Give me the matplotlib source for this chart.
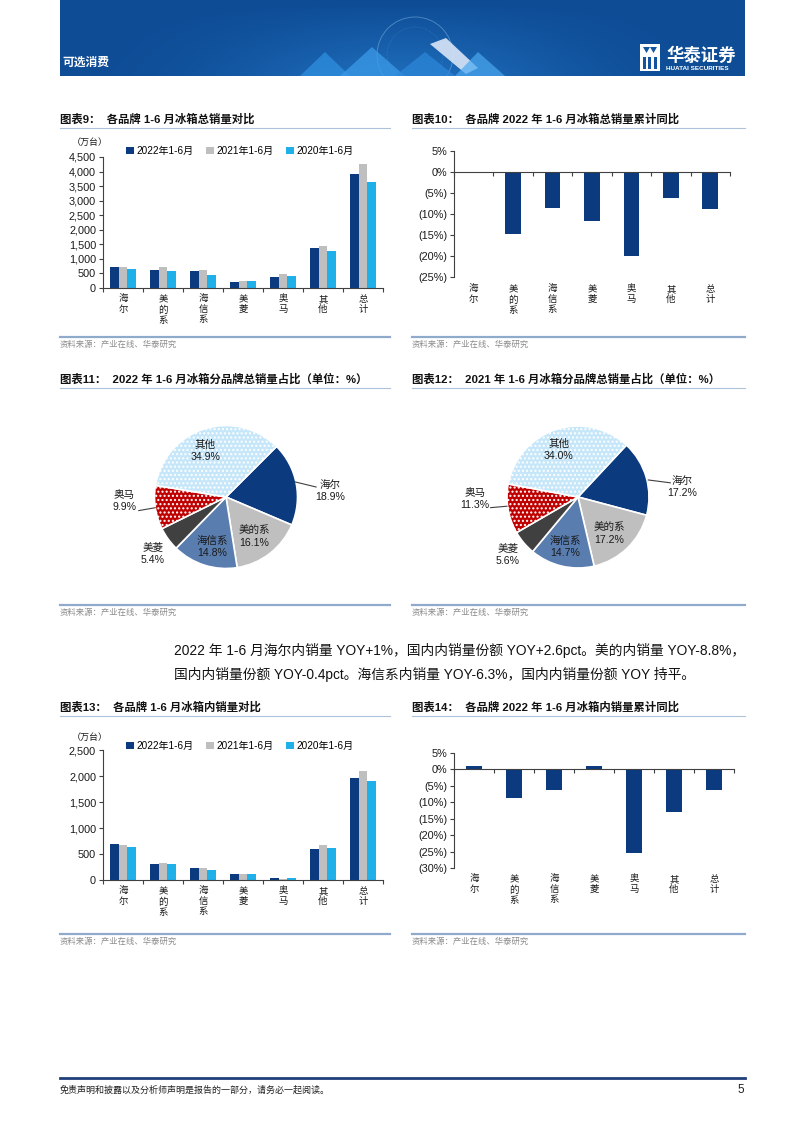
import matplotlib
matplotlib.use('Agg')
import matplotlib.pyplot as plt
import numpy as np
from matplotlib.lines import Line2D
from matplotlib.patches import Rectangle, Polygon, Circle
import matplotlib.transforms as mtransforms

plt.rcParams['font.family'] = ['Liberation Sans', 'Noto Sans CJK SC']
plt.rcParams['axes.unicode_minus'] = False
plt.rcParams['hatch.linewidth'] = 1.0

# ---------------- data ----------------
brands = ['海尔', '美的系', '海信系', '美菱', '奥马', '其他', '总计']
series_labels = ['2022年1-6月', '2021年1-6月', '2020年1-6月']

total_2022 = [735, 625, 575, 205, 380, 1360, 3905]
total_2021 = [735, 730, 628, 235, 480, 1450, 4270]
total_2020 = [655, 595, 445, 230, 400, 1275, 3655]
total_yoy = [0.0, -14.7, -8.5, -11.7, -20.1, -6.2, -8.8]

dom_2022 = [690, 300, 222, 120, 30, 590, 1955]
dom_2021 = [680, 330, 235, 115, 25, 672, 2090]
dom_2020 = [635, 305, 198, 115, 30, 612, 1900]
dom_yoy = [1.0, -8.8, -6.3, 1.0, -25.3, -13.0, -6.4]

pie_brands = ['海尔', '美的系', '海信系', '美菱', '奥马', '其他']
share_2022 = [18.9, 16.1, 14.8, 5.4, 9.9, 34.9]
share_2021 = [17.2, 17.2, 14.7, 5.6, 11.3, 34.0]

# ---------------- styles ----------------
NAVY = '#0B3A7E'
GRAY = '#BFBFBF'
CYAN = '#1FB0EA'
series_colors = [NAVY, GRAY, CYAN]
pie_colors = ['#0B3A7E', '#BFBFBF', '#5A7DB0', '#404040', '#C00000', '#C6E7F9']
pie_hatches = [None, None, None, None, '....', '....']
AXC = '#404040'
TXT = '#1A1A1A'

W, H = 802, 1133
fig = plt.figure(figsize=(W / 100, H / 100), dpi=100)


def fx(x):
    return x / W


def fy(y):
    return 1 - y / H


def rect(l, t, r, b):
    return [l / W, 1 - b / H, (r - l) / W, (b - t) / H]


def hline(x0, x1, y, color, lw):
    fig.add_artist(Line2D([fx(x0), fx(x1)], [fy(y), fy(y)], color=color, lw=lw,
                          transform=fig.transFigure))


def ftext(x, y, s, **kw):
    fig.text(fx(x), fy(y), s, **kw)


# ---------------- header ----------------
hax = fig.add_axes(rect(60, 0, 745, 76))
grad = np.linspace(0, 1, 256)
gx = np.exp(-((grad - 0.5) / 0.25) ** 2)
img = np.zeros((20, 256, 3))
c0 = np.array([0x0E, 0x4C, 0x95]) / 255
c1 = np.array([0x1E, 0x6C, 0xBA]) / 255
for i in range(20):
    img[i] = c0 + (c1 - c0) * (gx * (i / 19))[:, None]
hax.imshow(img, extent=[60, 745, 76, 0], aspect='auto', zorder=0)
hax.set_xlim(60, 745)
hax.set_ylim(76, 0)
hax.axis('off')
hax.add_patch(Circle((415, 55), 38, fill=False, ec='#8FC3F0', lw=0.6, alpha=0.5))
hax.add_patch(Circle((415, 55), 28, fill=False, ec='#8FC3F0', lw=0.4, alpha=0.4, ls=':'))
for pts, col, a in [
    ([(300, 76), (325, 52), (350, 76)], '#2F8FE0', 0.75),
    ([(340, 76), (372, 47), (405, 76)], '#3A9AE8', 0.75),
    ([(395, 76), (425, 52), (455, 76)], '#2C86D8', 0.75),
    ([(430, 44), (446, 38), (478, 68), (466, 74)], '#D9E6F7', 0.9),
    ([(455, 76), (478, 52), (505, 76)], '#4AA8F0', 0.7),
]:
    hax.add_patch(Polygon(pts, closed=True, color=col, alpha=a, lw=0))
ftext(62, 63, '可选消费', color='white', fontsize=8.5, va='center', fontweight='bold')
# logo icon
hax.add_patch(Rectangle((640, 44), 20, 27, color='white', lw=0))
hax.add_patch(Polygon([(643, 47), (650, 47), (646.5, 53)], color='#12559E', lw=0))
hax.add_patch(Polygon([(650, 47), (657, 47), (653.5, 53)], color='#12559E', lw=0))
hax.add_patch(Rectangle((643, 57), 3, 12, color='#12559E', lw=0))
hax.add_patch(Rectangle((648.5, 57), 3, 12, color='#12559E', lw=0))
hax.add_patch(Rectangle((654, 57), 3, 12, color='#12559E', lw=0))
ftext(666, 55, '华泰证券', color='white', fontsize=12.5, va='center', fontweight='bold')
ftext(666, 68, 'HUATAI SECURITIES', color='white', fontsize=4.6, va='center', fontweight='bold')

# ---------------- helpers ----------------
SRC = '资料来源：产业在线、华泰研究'


def panel_title(x0, x1, y, s):
    ftext(x0, y, s, fontsize=8.2, fontweight='bold', va='center', color='#111111')
    hline(x0, x1, y + 9, '#AFC2DC', 0.8)


def source(x0, x1, y):
    hline(x0, x1, y, '#8FAACB', 1.6)
    ftext(x0, y + 8, SRC, fontsize=6, va='center', color='#8C8C8C')


def cat_labels(ax, cats, offset_px, height_px):
    trans = mtransforms.blended_transform_factory(ax.transData, ax.transAxes)
    for i, c in enumerate(cats):
        ax.text(i + 0.5, -offset_px / height_px, '\n'.join(c), transform=trans,
                ha='center', va='top', fontsize=6.8, linespacing=1.15, color=TXT)


def style_axes(ax):
    for s in ['top', 'right']:
        ax.spines[s].set_visible(False)
    for s in ['left', 'bottom']:
        ax.spines[s].set_color(AXC)
        ax.spines[s].set_linewidth(0.8)
    ax.tick_params(axis='y', direction='out', length=3, width=0.8, color=AXC,
                   labelsize=7, labelcolor=TXT, pad=2)
    ax.tick_params(axis='x', direction='out', length=3, width=0.8, color=AXC,
                   labelbottom=False)
    ax.set_xlim(0, 7)
    ax.set_xticks(np.arange(0, 8))
    ax.patch.set_alpha(0)


def grouped(box, series, ylim, yticks, legend_y, unit_y, label_off):
    ax = fig.add_axes(rect(*box))
    x = np.arange(len(brands)) + 0.5
    w = 0.215
    handles = []
    for k, (vals, col) in enumerate(zip(series, series_colors)):
        b = ax.bar(x + (k - 1) * w, vals, w, color=col, lw=0)
        handles.append(b)
    style_axes(ax)
    ax.set_ylim(*ylim)
    ax.set_yticks(yticks)
    ax.set_yticklabels([f'{v:,}' for v in yticks])
    ax.tick_params(axis='y', labelsize=7.8)
    cat_labels(ax, brands, label_off, box[3] - box[1])
    ftext(box[0] - 31, unit_y, '（万台）', fontsize=6.5, va='center', color=TXT)
    ax.legend(handles, series_labels, ncol=3, loc='center left',
              bbox_to_anchor=(fx(box[0] + 23), fy(legend_y)),
              bbox_transform=fig.transFigure, frameon=False, fontsize=7.2,
              handlelength=0.75, handleheight=0.75, handletextpad=0.25,
              columnspacing=1.3, borderpad=0, borderaxespad=0)
    return ax


def pct_fmt(v):
    if v == 0:
        return '0%'
    if v > 0:
        return f'{v:.0f}%'
    return f'({-v:.0f}%)'


def yoy(box, vals, ylim, yticks, label_off, width):
    ax = fig.add_axes(rect(*box))
    x = np.arange(len(brands)) + 0.5
    ax.bar(x, vals, width, color=NAVY, lw=0)
    style_axes(ax)
    ax.set_ylim(*ylim)
    ax.set_yticks(yticks)
    ax.set_yticklabels([pct_fmt(v) for v in yticks])
    ax.tick_params(axis='y', labelsize=7.8)
    ax.spines['bottom'].set_position(('data', 0))
    cat_labels(ax, brands, label_off, box[3] - box[1])
    return ax


# ---------------- chart 9 ----------------
panel_title(60, 390, 119, '图表9：  各品牌 1-6 月冰箱总销量对比')
grouped((103, 157, 383, 288), [total_2022, total_2021, total_2020], (0, 4500),
        list(range(0, 4501, 500)), 151, 142, 7)
source(60, 390, 337)

# ---------------- chart 10 ----------------
panel_title(412, 745, 119, '图表10：  各品牌 2022 年 1-6 月冰箱总销量累计同比')
yoy((454, 151, 730, 277), total_yoy, (-25, 5), list(range(-25, 6, 5)), 8, 0.4)
source(412, 745, 337)


# ---------------- pies ----------------
def pie(center, r, shares, label_pos, leaders, startangle):
    half = 100
    ax = fig.add_axes(rect(center[0] - half, center[1] - half, center[0] + half, center[1] + half))
    lim = half / r
    wedges, _ = ax.pie(shares, colors=pie_colors, startangle=startangle, counterclock=False,
                       wedgeprops=dict(edgecolor='white', linewidth=1.2))
    for wdg, h in zip(wedges, pie_hatches):
        if h:
            wdg.set_hatch(h)
    ax.set_xlim(-lim, lim)
    ax.set_ylim(-lim, lim)
    ax.set_aspect('equal')
    ax.axis('off')
    for name, sh, (px, py) in zip(pie_brands, shares, label_pos):
        ax.text(px, py, f'{name}\n{sh:.1f}%', ha='center', va='center', fontsize=7.6,
                linespacing=1.25, color=TXT)
    for (x0, y0), (x1, y1) in leaders:
        ax.plot([x0, x1], [y0, y1], color='#404040', lw=0.8)


panel_title(60, 390, 379, '图表11：  2022 年 1-6 月冰箱分品牌总销量占比（单位：%）')
pie((226, 497), 71.5, share_2022,
    [(1.45, 0.08), (0.39, -0.56), (-0.19, -0.70), (-1.02, -0.80), (-1.42, -0.05), (-0.29, 0.65)],
    [((0.97, 0.21), (1.26, 0.14)), ((-0.99, -0.15), (-1.22, -0.19))], 45)
source(60, 390, 605)

panel_title(412, 745, 379, '图表12：  2021 年 1-6 月冰箱分品牌总销量占比（单位：%）')
pie((578, 497), 71, share_2021,
    [(1.47, 0.14), (0.44, -0.52), (-0.18, -0.70), (-0.99, -0.82), (-1.45, -0.03), (-0.27, 0.66)],
    [((0.99, 0.24), (1.30, 0.20)), ((-1.0, -0.13), (-1.23, -0.15))], 47)
source(412, 745, 605)

# ---------------- paragraph ----------------
ftext(174, 650, '2022 年 1-6 月海尔内销量 YOY+1%，国内内销量份额 YOY+2.6pct。美的内销量 YOY-8.8%，',
      fontsize=9.9, va='center', color='#111111')
ftext(174, 674, '国内内销量份额 YOY-0.4pct。海信系内销量 YOY-6.3%，国内内销量份额 YOY 持平。',
      fontsize=9.9, va='center', color='#111111')

# ---------------- chart 13 ----------------
panel_title(60, 390, 707, '图表13：  各品牌 1-6 月冰箱内销量对比')
grouped((103, 750, 383, 880), [dom_2022, dom_2021, dom_2020], (0, 2500),
        list(range(0, 2501, 500)), 746, 737, 7)
source(60, 390, 934)

# ---------------- chart 14 ----------------
panel_title(412, 745, 707, '图表14：  各品牌 2022 年 1-6 月冰箱内销量累计同比')
yoy((454, 753, 734, 868), dom_yoy, (-30, 5), list(range(-30, 6, 5)), 7, 0.38)
source(412, 745, 934)

# ---------------- footer ----------------
hline(60, 745, 1078, '#1F3E7A', 2.0)
ftext(60, 1090, '免责声明和披露以及分析师声明是报告的一部分，请务必一起阅读。', fontsize=6.5,
      va='center', color='#222222', style='italic')
ftext(744, 1090, '5', fontsize=8.5, va='center', ha='right', color='#222222')

fig.savefig('out.png', dpi=100)
